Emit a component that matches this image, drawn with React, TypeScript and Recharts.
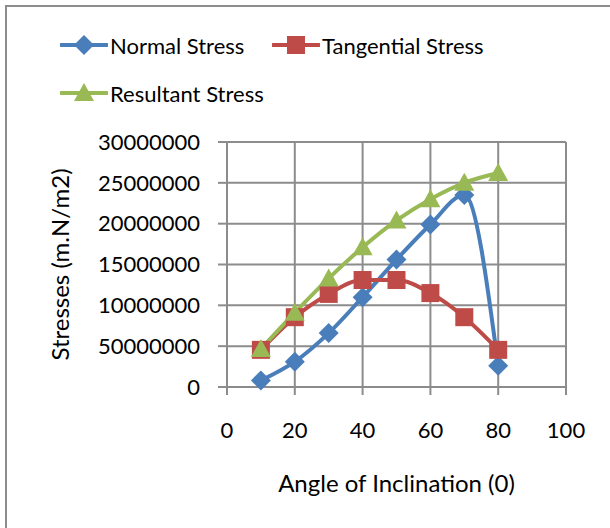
import React from "react";
import {
  LineChart,
  Line,
  XAxis,
  YAxis,
  CartesianGrid,
} from "recharts";

const angles = [10, 20, 30, 40, 50, 60, 70, 80];
const normalStress = [800000, 3100000, 6600000, 11000000, 15600000, 19900000, 23500000, 2600000];
const tangentialStress = [4550000, 8550000, 11400000, 13100000, 13100000, 11500000, 8550000, 4550000];
const resultantStress = [4650000, 9100000, 13300000, 17100000, 20400000, 23000000, 25000000, 26200000];

const xTicks = [0, 20, 40, 60, 80, 100];
const yTicks = [0, 5000000, 10000000, 15000000, 20000000, 25000000, 30000000];
const yTickLabels = ["0", "50000000", "10000000", "15000000", "20000000", "25000000", "30000000"];

const data = angles.map((a, i) => ({
  angle: a,
  normal: normalStress[i],
  tangential: tangentialStress[i],
  resultant: resultantStress[i],
}));

const FONT = "Lato, 'Open Sans', sans-serif";
const GRID = "#8c8c8c";

const series = [
  { key: "normal", name: "Normal Stress", color: "#4a7ebb", shape: "diamond" },
  { key: "tangential", name: "Tangential Stress", color: "#be4b48", shape: "square" },
  { key: "resultant", name: "Resultant Stress", color: "#98b954", shape: "triangle" },
];

function Marker({ cx, cy, shape, color }: any) {
  if (cx == null || cy == null) return null;
  if (shape === "diamond") {
    return (
      <path
        d={`M${cx},${cy - 10}L${cx + 10},${cy}L${cx},${cy + 10}L${cx - 10},${cy}Z`}
        fill={color}
      />
    );
  }
  if (shape === "square") {
    return <rect x={cx - 9} y={cy - 9} width={18} height={18} fill={color} />;
  }
  return (
    <path
      d={`M${cx},${cy - 10}L${cx + 10},${cy + 8}L${cx - 10},${cy + 8}Z`}
      fill={color}
    />
  );
}

function LegendBox() {
  return (
    <div
      style={{
        position: "absolute",
        left: 60,
        top: 21,
        display: "grid",
        gridTemplateColumns: "212px auto",
        fontFamily: FONT,
        fontSize: 22,
        color: "#000",
      }}
    >
      {series.map((s) => (
        <div key={s.key} style={{ display: "flex", alignItems: "center", height: 48 }}>
          <svg width={48} height={24} style={{ marginRight: 2 }}>
            <line x1={1} y1={12} x2={47} y2={12} stroke={s.color} strokeWidth={4} strokeLinecap="round" />
            <Marker cx={24} cy={12} shape={s.shape} color={s.color} />
          </svg>
          <span>{s.name}</span>
        </div>
      ))}
    </div>
  );
}

export default function App() {
  return (
    <div style={{ position: "absolute", left: 0, top: 0, width: 610, height: 528, background: "#fff", overflow: "hidden" }}>
      <div
        style={{
          position: "absolute",
          left: 5,
          top: 5,
          width: 620,
          height: 540,
          borderLeft: `2px solid ${GRID}`,
          borderTop: `2px solid ${GRID}`,
        }}
      />
      <LegendBox />
      <LineChart
        width={610}
        height={528}
        data={data}
        margin={{ top: 142, right: 44, bottom: 0, left: 0 }}
        style={{ position: "absolute", left: 0, top: 0 }}
      >
        <CartesianGrid stroke={GRID} strokeWidth={2} />
        <XAxis
          dataKey="angle"
          type="number"
          domain={[0, 100]}
          ticks={xTicks}
          interval={0}
          height={141}
          stroke={GRID}
          strokeWidth={2}
          tickSize={8}
          tickMargin={27}
          tick={{ fill: "#000", fontSize: 22, fontFamily: FONT }}
          label={{
            value: "Angle of Inclination (0)",
            position: "insideBottom",
            offset: 36,
            fill: "#000",
            fontSize: 24,
            fontFamily: FONT,
          }}
        />
        <YAxis
          type="number"
          domain={[0, 30000000]}
          ticks={yTicks}
          interval={0}
          width={227}
          stroke={GRID}
          strokeWidth={2}
          tickSize={9}
          tickMargin={18}
          tickFormatter={(v: number) => yTickLabels[yTicks.indexOf(v)]}
          tick={{ fill: "#000", fontSize: 22, fontFamily: FONT }}
          label={{
            value: "Stresses (m.N/m2)",
            angle: -90,
            position: "insideLeft",
            offset: 60,
            fill: "#000",
            fontSize: 24,
            fontFamily: FONT,
            style: { textAnchor: "middle" },
          }}
        />
        {series.map((s) => (
          <Line
            key={s.key}
            type="monotone"
            dataKey={s.key}
            name={s.name}
            stroke={s.color}
            strokeWidth={4}
            isAnimationActive={false}
            dot={(p: any) => <Marker key={`${s.key}-${p.index}`} cx={p.cx} cy={p.cy} shape={s.shape} color={s.color} />}
            activeDot={false}
          />
        ))}
      </LineChart>
    </div>
  );
}
